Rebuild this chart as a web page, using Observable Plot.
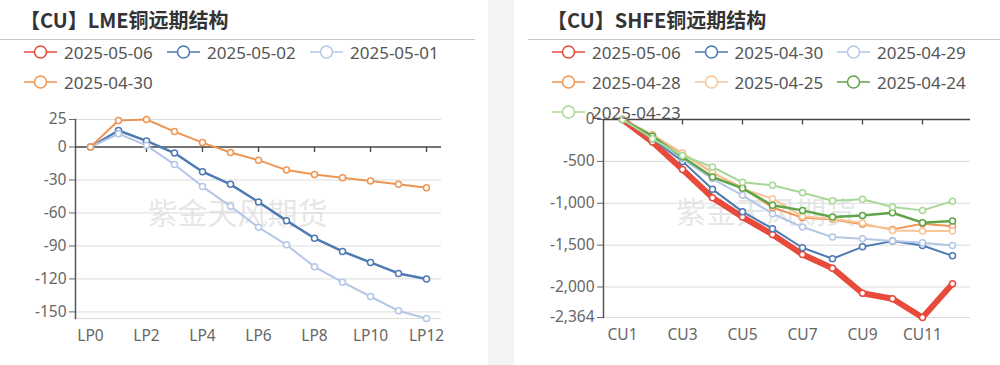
<!DOCTYPE html>
<html>
<head>
<meta charset="utf-8">
<script src="https://cdn.jsdelivr.net/npm/d3@7"></script>
<script src="https://cdn.jsdelivr.net/npm/@observablehq/plot@0.6"></script>
<style>
  html, body { margin: 0; padding: 0; background: #fff; }
  body { width: 1000px; height: 365px; position: relative; overflow: hidden;
         font-family: "Noto Sans", "Noto Sans CJK SC", sans-serif; }
  .panel { position: absolute; top: 0; width: 500px; height: 365px; }
  .title { position: absolute; top: 5px; font-size: 20px; font-weight: bold; color: #333;
           font-family: "Noto Sans CJK SC", "Noto Sans", sans-serif; line-height: 30px; white-space: nowrap; }
  .rule { position: absolute; top: 39px; height: 1px; background: #c9c9c9; }
  .leg { position: absolute; height: 22px; display: flex; align-items: center; white-space: nowrap; z-index: 3; }
  .leg span { margin-left: 7px; font-size: 17px; color: #555; }
  .chart { position: absolute; left: 0; top: 0; }
  .divider { position: absolute; left: 488px; top: 0; width: 26px; height: 365px; background: #f4f4f5; z-index: 4; }
</style>
</head>
<body>
<div class="divider"></div>
<div class="panel" id="lme" style="left:0">
  <div class="chart" id="lmeChart"></div>
  <div class="title" style="left:20px">【CU】LME铜远期结构</div>
  <div class="rule" style="left:0; width:475px"></div>
</div>
<div class="panel" id="shfe" style="left:500px">
  <div class="chart" id="shfeChart"></div>
  <div class="title" style="left:47px">【CU】SHFE铜远期结构</div>
  <div class="rule" style="left:28px; width:472px"></div>
</div>
<script>
// ---------- LME data ----------
const lmeCategories = ["LP0","LP1","LP2","LP3","LP4","LP5","LP6","LP7","LP8","LP9","LP10","LP11","LP12"];
const lmeTickLabels = ["LP0","LP2","LP4","LP6","LP8","LP10","LP12"];
const lmeSeriesNames = ["2025-05-06","2025-05-02","2025-05-01","2025-04-30"];
const lme_20250506 = [];
const lme_20250502 = [0, 15, 5.5, -5.5, -22.5, -34, -50, -67, -83, -95, -105, -115, -120];
const lme_20250501 = [0, 12, 1.5, -16, -36, -54, -73, -89, -109, -123, -136, -149, -156];
const lme_20250430 = [0, 24, 25, 14, 4, -5, -12, -21, -25, -28, -31, -34, -37];
const lmeYTicks = [25, 0, -30, -60, -90, -120, -150];

// ---------- SHFE data ----------
const shfeCategories = ["CU1","CU2","CU3","CU4","CU5","CU6","CU7","CU8","CU9","CU10","CU11","CU12"];
const shfeTickLabels = ["CU1","CU3","CU5","CU7","CU9","CU11"];
const shfeSeriesNames = ["2025-05-06","2025-04-30","2025-04-29","2025-04-28","2025-04-25","2025-04-24","2025-04-23"];
const shfe_20250506 = [0, -270, -598, -933, -1165, -1372, -1611, -1775, -2074, -2141, -2364, -1962];
const shfe_20250430 = [0, -230, -500, -834, -1100, -1304, -1531, -1662, -1520, -1452, -1504, -1628];
const shfe_20250429 = [0, -215, -470, -708, -905, -1125, -1284, -1404, -1424, -1452, -1472, -1504];
const shfe_20250428 = [0, -185, -405, -635, -816, -1050, -1172, -1190, -1252, -1312, -1244, -1275];
const shfe_20250425 = [0, -190, -400, -628, -828, -945, -1157, -1184, -1237, -1324, -1330, -1332];
const shfe_20250424 = [0, -200, -447, -686, -822, -1025, -1085, -1165, -1145, -1113, -1232, -1213];
const shfe_20250423 = [0, -230, -430, -567, -750, -786, -874, -970, -953, -1045, -1085, -975];
const shfeYTicks = [0, -500, -1000, -1500, -2000, -2364];

const watermark = "紫金天风期货";

// ---------- styles ----------
const palette = ["#e84a3c", "#4d7ab3", "#b3c6e6", "#ef9552", "#f7c596", "#5ea548", "#a8d896"];
const lmeWidths = [2, 2.5, 2, 2];
const shfeWidths = [6, 2, 2, 2, 2, 2.5, 2];

const lmeValues = [lme_20250506, lme_20250502, lme_20250501, lme_20250430];
const shfeValues = [shfe_20250506, shfe_20250430, shfe_20250429, shfe_20250428, shfe_20250425, shfe_20250424, shfe_20250423];

const tickSymbol = { draw(ctx) { ctx.moveTo(0, 0); ctx.lineTo(0, 5); } };
const fmt = d => d.toLocaleString("en-US");

function legend(panel, names, x0, colStep) {
  names.forEach((name, i) => {
    const col = i % 3, row = Math.floor(i / 3);
    const c = palette[i];
    const div = document.createElement("div");
    div.className = "leg";
    div.style.left = (x0 + col * colStep) + "px";
    div.style.top = (41 + row * 30) + "px";
    div.innerHTML = `<svg width="33" height="16"><line x1="0" x2="33" y1="8" y2="8" stroke="${c}" stroke-width="1.6"/><circle cx="16.5" cy="8" r="6" fill="#fff" stroke="${c}" stroke-width="1.5"/></svg><span>${name}</span>`;
    document.getElementById(panel).appendChild(div);
  });
}

function chart({cats, tickLabels, names, values, widths, yTicks, yFont, margins, wmDx}) {
  const rows = [];
  values.forEach((arr, s) => arr.forEach((v, i) => rows.push({series: names[s], cat: cats[i], value: v})));
  const ext = d3.extent(rows, d => d.value);
  const grid = yTicks.filter(t => t !== 0).concat([ext[0]]);
  const marks = [
    Plot.text([watermark], {frameAnchor: "middle", dx: wmDx, dy: -5, fontSize: 30, fill: "#d8d8d8", fillOpacity: 0.65,
      fontFamily: "Noto Sans CJK SC, sans-serif"}),
    Plot.ruleY(grid, {stroke: "#dcdcdc", strokeWidth: 1}),
    Plot.frame({anchor: "left", stroke: "#555", strokeWidth: 1.5}),
    Plot.ruleY([0], {stroke: "#444", strokeWidth: 1.5}),
    Plot.dot(tickLabels.slice(1), {x: d => d, y: () => 0, symbol: tickSymbol, fill: "none", stroke: "#444", strokeWidth: 1.3}),
    Plot.axisY({ticks: yTicks, tickFormat: fmt, tickSize: 6, tickPadding: 3, fontSize: yFont, color: "#666", label: null}),
    Plot.axisX({ticks: tickLabels, tickSize: 0, tickPadding: 11, fontSize: 15.5, color: "#666", label: null})
  ];
  names.forEach((name, s) => {
    const data = rows.filter(d => d.series === name);
    if (!data.length) return;
    marks.push(Plot.line(data, {x: "cat", y: "value", stroke: palette[s], strokeWidth: widths[s], strokeLinejoin: "round"}));
    marks.push(Plot.dot(data, {x: "cat", y: "value", r: 3, fill: "#fff", stroke: palette[s], strokeWidth: 1.5}));
  });
  return Plot.plot({
    width: 500, height: 365,
    ...margins,
    style: {background: "transparent", fontFamily: "Noto Sans, sans-serif", overflow: "visible"},
    x: {type: "point", domain: cats, padding: 0.5, axis: null},
    y: {domain: [ext[0], ext[1]], axis: null},
    marks
  });
}

document.getElementById("lmeChart").appendChild(chart({
  cats: lmeCategories, tickLabels: lmeTickLabels, names: lmeSeriesNames, values: lmeValues, widths: lmeWidths,
  yTicks: lmeYTicks, yFont: 15.5, wmDx: -21,
  margins: {marginLeft: 75, marginRight: 59, marginTop: 119, marginBottom: 47}
}));
document.getElementById("shfeChart").appendChild(chart({
  cats: shfeCategories, tickLabels: shfeTickLabels, names: shfeSeriesNames, values: shfeValues, widths: shfeWidths,
  yTicks: shfeYTicks, yFont: 15.5, wmDx: -21,
  margins: {marginLeft: 103, marginRight: 30, marginTop: 119, marginBottom: 48}
}));

legend("lme", lmeSeriesNames, 24, 143);
legend("shfe", shfeSeriesNames, 52, 142.5);
</script>
</body>
</html>
